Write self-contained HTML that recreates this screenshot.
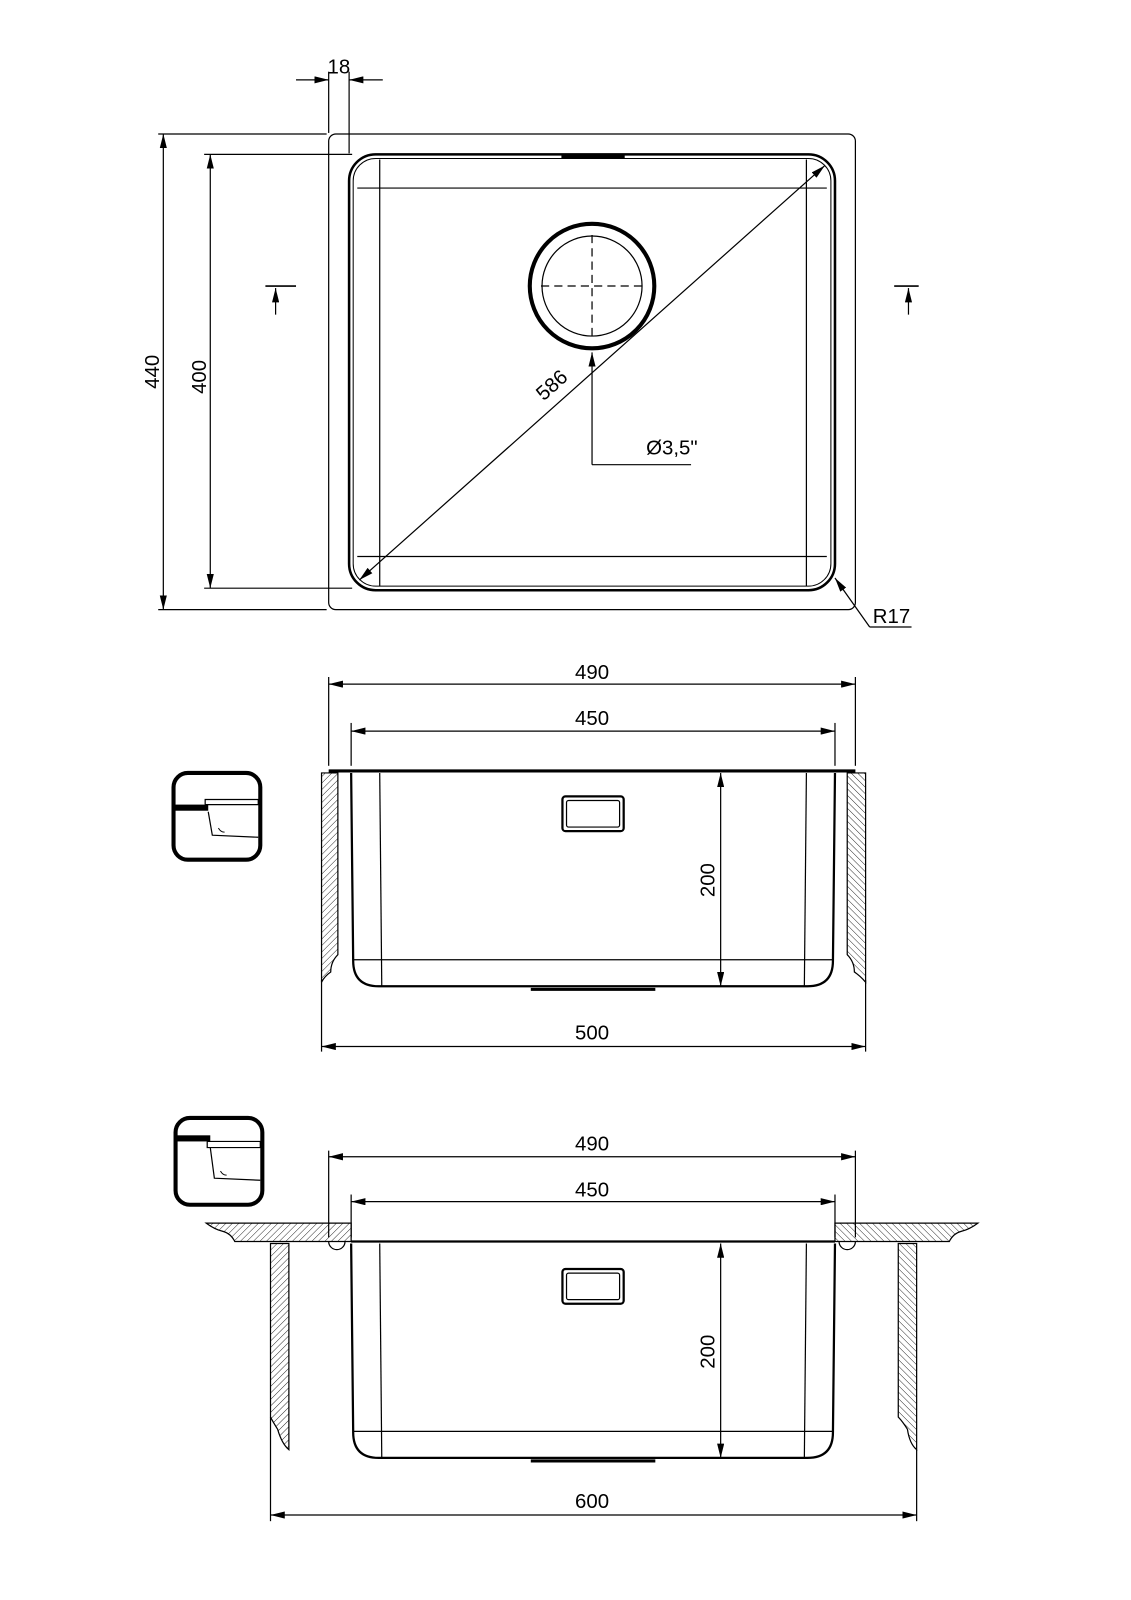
<!DOCTYPE html>
<html><head><meta charset="utf-8"><style>
html,body{margin:0;padding:0;background:#fff;}
svg{display:block;}
text{font-family:"Liberation Sans",sans-serif;font-size:20px;fill:#000;}
</style></head><body>
<svg width="1131" height="1600" viewBox="0 0 1108 1567" xmlns="http://www.w3.org/2000/svg">
<defs>
<pattern id="h" patternUnits="userSpaceOnUse" width="4.5" height="4.5" patternTransform="rotate(45)">
<line x1="0" y1="0" x2="0" y2="4.5" stroke="#000" stroke-width="0.8"/>
</pattern>
<pattern id="h2" patternUnits="userSpaceOnUse" width="4.5" height="4.5" patternTransform="rotate(-45)">
<line x1="0" y1="0" x2="0" y2="4.5" stroke="#000" stroke-width="0.8"/>
</pattern>
<marker id="a" viewBox="0 0 12 6" refX="12" refY="3" markerWidth="14" markerHeight="7" markerUnits="userSpaceOnUse" orient="auto-start-reverse">
<path d="M0,0 L12,3 L0,6 z" fill="#000"/>
</marker>
</defs>
<g fill="none" stroke="#000" stroke-width="1.2">

<!-- TOP VIEW -->
<rect x="322" y="131" width="516" height="466" rx="7"/>
<rect x="342" y="151" width="476" height="427" rx="26" stroke-width="2.5"/>
<rect x="346" y="155" width="468" height="419" rx="22" stroke-width="1"/>
<line x1="350" y1="184" x2="810" y2="184"/>
<line x1="350" y1="545" x2="810" y2="545"/>
<line x1="372" y1="156" x2="372" y2="574"/>
<line x1="790" y1="156" x2="790" y2="574"/>
<line x1="550" y1="153" x2="612" y2="153" stroke-width="3"/>
<circle cx="580" cy="280" r="61" stroke-width="4"/>
<circle cx="580" cy="280" r="49"/>
<line x1="530" y1="280" x2="630" y2="280" stroke-dasharray="8,5"/>
<line x1="580" y1="230" x2="580" y2="330" stroke-dasharray="8,5"/>
<line x1="352" y1="568" x2="808" y2="162" marker-start="url(#a)" marker-end="url(#a)"/>
<polyline points="580,455 580,345" marker-end="url(#a)"/>
<polyline points="580,455 677,455"/>
<line x1="852" y1="614" x2="818" y2="566" marker-end="url(#a)"/>
<line x1="852" y1="614" x2="893" y2="614"/>
<!-- 18 -->
<line x1="322" y1="130" x2="322" y2="70"/>
<line x1="342" y1="150" x2="342" y2="70"/>
<line x1="290" y1="78" x2="322" y2="78" marker-end="url(#a)"/>
<line x1="375" y1="78" x2="342" y2="78" marker-end="url(#a)"/>
<!-- 440 / 400 -->
<line x1="155" y1="131" x2="320" y2="131"/>
<line x1="155" y1="597" x2="320" y2="597"/>
<line x1="160" y1="131" x2="160" y2="597" marker-start="url(#a)" marker-end="url(#a)"/>
<line x1="200" y1="151" x2="345" y2="151"/>
<line x1="200" y1="576" x2="345" y2="576"/>
<line x1="206" y1="151" x2="206" y2="576" marker-start="url(#a)" marker-end="url(#a)"/>
<!-- section marks -->
<line x1="260" y1="280" x2="290" y2="280" stroke-width="1.6"/>
<line x1="270" y1="308" x2="270" y2="282" marker-end="url(#a)"/>
<line x1="876" y1="280" x2="900" y2="280" stroke-width="1.6"/>
<line x1="890" y1="308" x2="890" y2="282" marker-end="url(#a)"/>

<!-- MIDDLE VIEW -->
<line x1="322" y1="663" x2="322" y2="750"/>
<line x1="838" y1="663" x2="838" y2="750"/>
<line x1="344" y1="708" x2="344" y2="750"/>
<line x1="818" y1="708" x2="818" y2="750"/>
<line x1="322" y1="670" x2="838" y2="670" marker-start="url(#a)" marker-end="url(#a)"/>
<line x1="344" y1="716" x2="818" y2="716" marker-start="url(#a)" marker-end="url(#a)"/>
<line x1="322" y1="755" x2="838" y2="755" stroke-width="3"/>
<path d="M344,757 L346,941 Q346,966 371,966 L791,966 Q816,966 816,941 L818,757" stroke-width="2.2"/>
<line x1="346" y1="940" x2="816" y2="940"/>
<line x1="372" y1="757" x2="374" y2="966"/>
<line x1="790" y1="757" x2="788" y2="966"/>
<rect x="551" y="780" width="60" height="34" rx="3" stroke-width="2.2"/>
<rect x="555" y="784" width="52" height="26" rx="2"/>
<line x1="520" y1="969" x2="642" y2="969" stroke-width="3"/>
<line x1="706" y1="757" x2="706" y2="966" marker-start="url(#a)" marker-end="url(#a)"/>
<path d="M315,757 L331,757 L331,935 Q324,942 324,952 Q318,956 315,962 Z" fill="url(#h)"/>
<path d="M848,757 L830,757 L830,935 Q837,942 837,952 Q843,956 848,962 Z" fill="url(#h2)"/>
<line x1="315" y1="960" x2="315" y2="1030"/>
<line x1="848" y1="960" x2="848" y2="1030"/>
<line x1="315" y1="1025" x2="848" y2="1025" marker-start="url(#a)" marker-end="url(#a)"/>
<!-- icon 1 -->
<rect x="170" y="757" width="85" height="85" rx="14" stroke-width="4"/>
<rect x="170" y="788" width="34" height="6" fill="#000" stroke="none"/>
<polyline points="201,788 201,783 253,783 253,788 201,788" stroke-width="1.2"/>
<path d="M204,795 L208,818 L253,820" stroke-width="1.2"/>
<path d="M214,811 Q216,815 220,815" stroke-width="1"/>

<!-- BOTTOM VIEW -->
<line x1="322" y1="1127" x2="322" y2="1212"/>
<line x1="838" y1="1127" x2="838" y2="1212"/>
<line x1="344" y1="1170" x2="344" y2="1212"/>
<line x1="818" y1="1170" x2="818" y2="1212"/>
<line x1="322" y1="1133" x2="838" y2="1133" marker-start="url(#a)" marker-end="url(#a)"/>
<line x1="344" y1="1177" x2="818" y2="1177" marker-start="url(#a)" marker-end="url(#a)"/>
<path d="M202,1198 L344,1198 L344,1216 L230,1216 Q226,1208 218,1206 Q210,1204 202,1198 Z" fill="url(#h)"/>
<path d="M958,1198 L818,1198 L818,1216 L930,1216 Q934,1208 942,1206 Q950,1204 958,1198 Z" fill="url(#h2)"/>
<path d="M322,1216 A8,8 0 0 0 338,1216" />
<path d="M822,1216 A8,8 0 0 0 838,1216" />
<line x1="344" y1="1216" x2="818" y2="1216" stroke-width="2.2"/>
<path d="M344,1218 L346,1403 Q346,1428 371,1428 L791,1428 Q816,1428 816,1403 L818,1218" stroke-width="2.2"/>
<line x1="346" y1="1402" x2="816" y2="1402"/>
<line x1="372" y1="1218" x2="374" y2="1428"/>
<line x1="790" y1="1218" x2="788" y2="1428"/>
<rect x="551" y="1243" width="60" height="34" rx="3" stroke-width="2.2"/>
<rect x="555" y="1247" width="52" height="26" rx="2"/>
<line x1="520" y1="1431" x2="642" y2="1431" stroke-width="3"/>
<line x1="706" y1="1218" x2="706" y2="1428" marker-start="url(#a)" marker-end="url(#a)"/>
<path d="M265,1218 L283,1218 L283,1412 L283,1420 Q276,1414 272,1400 Q267,1392 265,1388 Z" fill="url(#h)"/>
<path d="M880,1218 L898,1218 L898,1420 Q891,1414 889,1400 Q884,1392 880,1388 Z" fill="url(#h2)"/>
<line x1="265" y1="1388" x2="265" y2="1490"/>
<line x1="898" y1="1420" x2="898" y2="1490"/>
<line x1="265" y1="1484" x2="898" y2="1484" marker-start="url(#a)" marker-end="url(#a)"/>
<!-- icon 2 -->
<rect x="172" y="1095" width="85" height="85" rx="14" stroke-width="4"/>
<rect x="172" y="1112" width="34" height="6" fill="#000" stroke="none"/>
<polyline points="203,1118 203,1124 255,1124 255,1118 203,1118" stroke-width="1.2"/>
<path d="M206,1124 L210,1154 L255,1156" stroke-width="1.2"/>
<path d="M216,1147 Q218,1151 222,1151" stroke-width="1"/>
</g>

<!-- labels -->
<text x="332" y="72" text-anchor="middle">18</text>
<text transform="translate(156,364) rotate(-90)" text-anchor="middle">440</text>
<text transform="translate(202,369) rotate(-90)" text-anchor="middle">400</text>
<text transform="translate(545,382) rotate(-41.7)" text-anchor="middle">586</text>
<text x="633" y="445">Ø3,5"</text>
<text x="855" y="610">R17</text>
<text x="580" y="665" text-anchor="middle">490</text>
<text x="580" y="710" text-anchor="middle">450</text>
<text transform="translate(700,862) rotate(-90)" text-anchor="middle">200</text>
<text x="580" y="1018" text-anchor="middle">500</text>
<text x="580" y="1127" text-anchor="middle">490</text>
<text x="580" y="1172" text-anchor="middle">450</text>
<text transform="translate(700,1324) rotate(-90)" text-anchor="middle">200</text>
<text x="580" y="1477" text-anchor="middle">600</text>
</svg>
</body></html>
